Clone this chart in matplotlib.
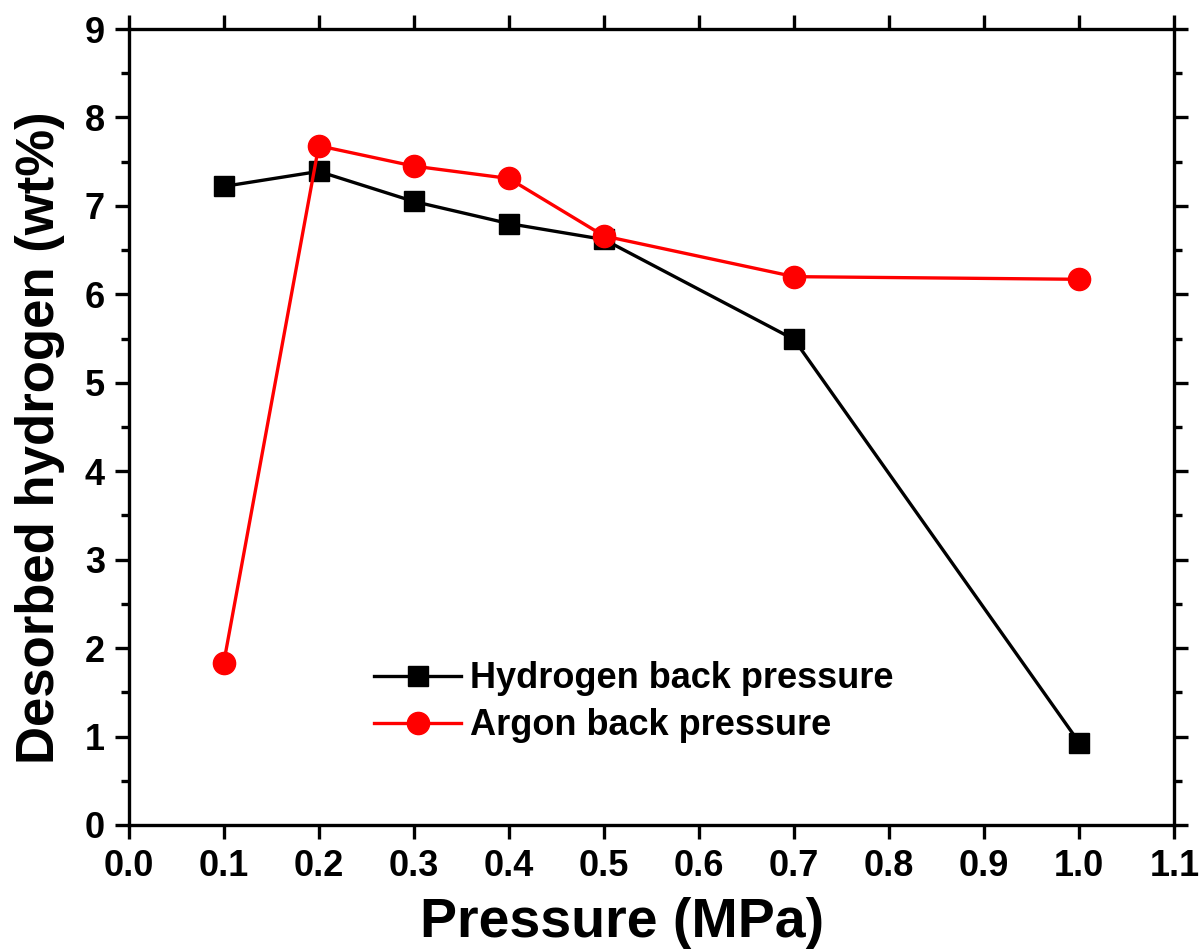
import matplotlib
matplotlib.use('Agg')
import matplotlib.pyplot as plt
from matplotlib.ticker import MultipleLocator

plt.rcParams['font.family'] = ['Liberation Sans', 'DejaVu Sans']
plt.rcParams['font.weight'] = 'bold'

pressure = [0.1, 0.2, 0.3, 0.4, 0.5, 0.7, 1.0]
hydrogen_bp = [7.22, 7.39, 7.05, 6.80, 6.62, 5.49, 0.93]
argon_bp = [1.83, 7.68, 7.45, 7.31, 6.66, 6.20, 6.17]

fig = plt.figure(figsize=(12.02, 9.51), dpi=100)
ax = fig.add_axes([0.107, 0.1325, 0.870, 0.837])

ax.plot(pressure, hydrogen_bp, '-s', color='black', lw=2.4, ms=14, label='Hydrogen back pressure')
ax.plot(pressure, argon_bp, '-o', color='red', lw=2.4, ms=16, label='Argon back pressure')

ax.set_xlim(0, 1.1)
ax.set_ylim(0, 9)
ax.yaxis.set_major_locator(MultipleLocator(1))
ax.yaxis.set_minor_locator(MultipleLocator(0.5))
ax.set_xticks([i / 10 for i in range(12)])
ax.set_xticklabels([f'{i / 10:.1f}' for i in range(12)])

for s in ax.spines.values():
    s.set_linewidth(2.4)
ax.tick_params(which='both', direction='out', width=2.4, top=True, right=True, labelsize=26)
ax.tick_params(which='major', length=10, pad=7)
ax.tick_params(which='minor', length=6)
ax.tick_params(axis='x', which='minor', length=0, top=False, bottom=False)

ax.set_xlabel('Pressure (MPa)', fontsize=40, fontweight='bold')
ax.set_ylabel('Desorbed hydrogen (wt%)', fontsize=38, fontweight='bold')
ax.xaxis.set_label_coords(0.472, -0.091)
ax.yaxis.set_label_coords(-0.061, 0.487)

ax.legend(loc='lower left', bbox_to_anchor=(0.204, 0.062), frameon=False, fontsize=26,
          handlelength=2.4, handletextpad=0.25, labelspacing=0.33)

fig.savefig('out.png', dpi=100)
